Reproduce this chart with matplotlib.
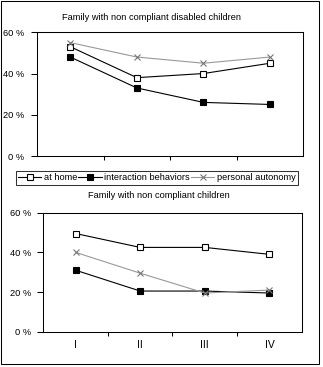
import matplotlib
matplotlib.use('Agg')
import matplotlib.pyplot as plt
from matplotlib.patches import Rectangle
import numpy as np

plt.rcParams['font.family'] = ['Liberation Sans', 'DejaVu Sans']
plt.rcParams['font.size'] = 6.7

# Data
phases = ['I', 'II', 'III', 'IV']
series_names = ['at home', 'interaction behaviors', 'personal autonomy']
# Family with non compliant disabled children
disabled_home = [53, 38, 40, 45]
disabled_interaction = [48, 33, 26, 25]
disabled_autonomy = [55, 48, 45, 48]
# Family with non compliant children
children_home = [49.5, 42.5, 42.5, 39]
children_interaction = [31, 20.5, 20.5, 19.5]
children_autonomy = [40, 29.5, 19.5, 21]
yticks = [0, 20, 40, 60]
ytick_labels = ['0 %', '20 %', '40 %', '60 %']

W, H = 323, 367
fig = plt.figure(figsize=(W / 100, H / 100), dpi=100)

styles = [
    dict(color='black', marker='s', markerfacecolor='white', markeredgecolor='black'),
    dict(color='black', marker='s', markerfacecolor='black', markeredgecolor='black'),
    dict(color='#999999', marker='x', markeredgecolor='#777777'),
]


def draw(ax, values, labels_on):
    x = np.arange(len(phases)) + 0.5
    lines = []
    for vals, st, name in zip(values, styles, series_names):
        ln, = ax.plot(x, vals, lw=0.8, ms=3.8, mew=0.8, label=name, **st)
        lines.append(ln)
    ax.set_xlim(0, 4)
    ax.set_ylim(0, 60)
    ax.set_yticks(yticks)
    ax.set_yticklabels(ytick_labels)
    ax.set_xticks([1, 2, 3])
    ax.set_xticks(x, minor=True)
    ax.set_xticklabels([])
    if labels_on:
        ax.set_xticklabels(phases, minor=True)
    ax.tick_params(axis='x', which='major', direction='out', length=3, width=0.75)
    ax.tick_params(axis='x', which='minor', length=0, pad=6, labelsize=7.5)
    ax.tick_params(axis='y', direction='out', length=4, width=0.75, pad=5)
    for s in ax.spines.values():
        s.set_linewidth(0.75)
    return lines


ax1 = fig.add_axes([37 / W, 1 - 156 / H, (303.3 - 37) / W, (156 - 32.3) / H])
lines = draw(ax1, [disabled_home, disabled_interaction, disabled_autonomy], False)
fig.text(152 / W, 1 - 17 / H, 'Family with non compliant disabled children', ha='center', va='center')

ax2 = fig.add_axes([43.3 / W, 1 - 331.7 / H, (301.7 - 43.3) / W, (331.7 - 212.7) / H])
draw(ax2, [children_home, children_interaction, children_autonomy], True)
fig.text(159 / W, 1 - 196 / H, 'Family with non compliant children', ha='center', va='center')

leg = fig.legend(handles=lines, loc='center', bbox_to_anchor=(156.7 / W, 1 - 177.8 / H), ncol=3,
                 frameon=True, fancybox=False, edgecolor='black', borderpad=0.25,
                 handlelength=2.5, handletextpad=0.25, columnspacing=0.15, borderaxespad=0)
leg.get_frame().set_linewidth(0.75)

fig.patches.append(Rectangle((0.5 / W, 1 - 364 / H), 318.5 / W, 363.5 / H, transform=fig.transFigure,
                             fill=False, edgecolor='black', linewidth=0.75))

plt.savefig('out.png', dpi=100)
